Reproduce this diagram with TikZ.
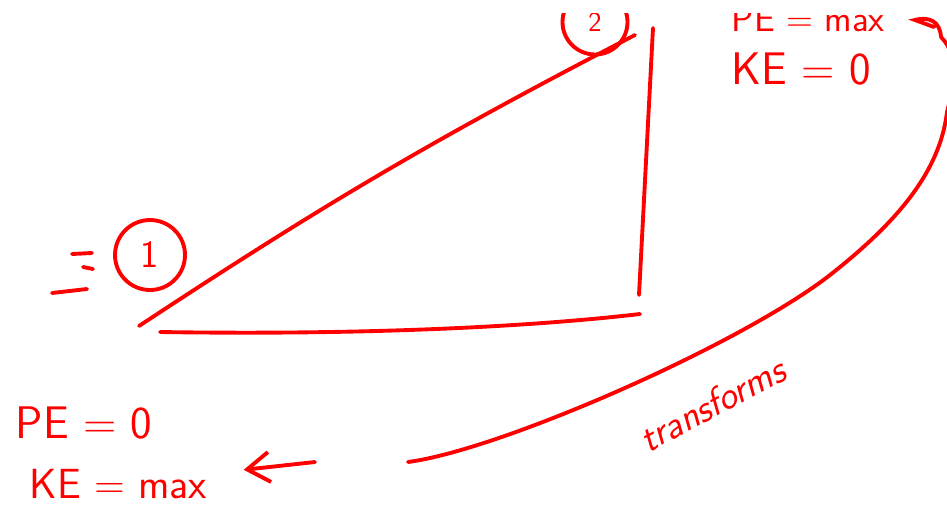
\documentclass[tikz,border=0pt]{standalone}
\usepackage{fontspec}
\usetikzlibrary{arrows.meta}
\tikzset{every picture/.style={line width=2.2pt}}
\tikzset{
  ink/.style={draw=red, line cap=round},
  note/.style={text=red, font=\sffamily\fontsize{26}{26}\selectfont, inner sep=0pt, anchor=base west},
  ptmark/.style={circle, draw=red, text=red, inner sep=0pt}
}

\begin{document}
\begin{tikzpicture}[x=0.02cm, y=-0.02cm, >={Straight Barb[length=4.5mm,width=6mm]}]
      \useasboundingbox (0,0) rectangle (947,511);
      \clip (0,13) rectangle (947,511);
      \node[note, font=\sffamily\fontsize{21}{21}\selectfont] (petop) at (730,31)  {PE = max};
      \node[note] (ketop) at (730,84)  {KE = 0};
      \node[note] (pebot) at (14,438)  {PE = 0};
      \node[note, font=\sffamily\fontsize{24}{24}\selectfont] (kebot) at (28,498)  {KE = max};
      \node[ptmark, minimum size=1.4cm, font=\sffamily\fontsize{22}{22}\selectfont] (c1) at (150,255) {1};
      \node[ptmark, minimum size=1.3cm, font=\sffamily\fontsize{16}{16}\selectfont] (c2) at (595,22) {2};
      \node[text=red, font=\sffamily\itshape\fontsize{22}{22}\selectfont, rotate=28] (tf) at (712,404) {transforms};
      \coordinate (from) at (941,37);
      \coordinate (to) at (408,462);
      \coordinate (arr) at (315,462);
      \draw[ink] (139,326) to[bend left=3] (635,35);
      \draw[ink] (653,28) -- (639,295);
      \draw[ink] (160,332) .. controls (350,335) and (520,328) .. (640,314);
      \draw[ink] (72,254) -- (92,253);
      \draw[ink] (83,267) -- (93,269);
      \draw[ink] (52,293) -- (87,289);
      \draw[ink] (from) .. controls (940,22) and (930,16) .. (915,20) -- (934,27);
      \draw[ink] (from) .. controls (962,58) and (952,92) .. (947,112)
            .. controls (940,170) and (900,220) .. (830,275)
            .. controls (740,345) and (500,450) .. (to);
      \draw[ink, ->, shorten >=0.7cm] (arr) -- (kebot);
    \end{tikzpicture}
\end{document}
